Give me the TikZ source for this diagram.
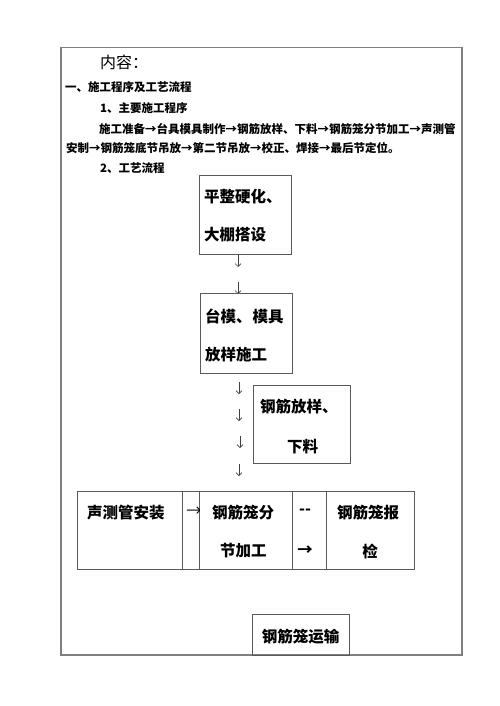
\documentclass[tikz,border=0pt]{standalone}
\usepackage{fontspec}
\usetikzlibrary{arrows.meta}
\newfontfamily\cjk{Noto Sans CJK SC}
\definecolor{framegray}{HTML}{808080}
\definecolor{boxgray}{HTML}{5A5A5A}
\definecolor{arrgray}{HTML}{404040}
\begin{document}
\begin{tikzpicture}[x=1pt,y=-1pt,
  body/.style={inner sep=0pt,anchor=west,font=\cjk\bfseries\fontsize{11.5}{12}\selectfont},
  big/.style={inner sep=0pt,anchor=west,font=\cjk\bfseries\fontsize{15.5}{16}\selectfont},
  bigc/.style={inner sep=0pt,font=\cjk\bfseries\fontsize{15.5}{16}\selectfont},
  flowbox/.style={draw=boxgray,line width=0.9pt,anchor=north west,inner sep=0pt},
  downarr/.style={draw=arrgray,line width=0.6pt,-{Straight Barb[length=3pt,width=6pt]}},
  cell/.style={draw=boxgray,line width=0.9pt}]
\useasboundingbox (0,0) rectangle (500,706);
% outer frame
\draw[framegray,line width=1.2pt] (61,47.5) rectangle (462,655);
% heading texts
\node[inner sep=0pt,anchor=west,font=\cjk\fontsize{16}{16}\selectfont] (title) at (100,62) {内容：};
\node[body] (h1) at (65,87) {一、施工程序及工艺流程};
\node[body] (h2) at (100,108) {1、主要施工程序};
\node[body] (p1) at (99,129) {施工准备→台具模具制作→钢筋放样、下料→钢筋笼分节加工→声测管};
\node[body] (p2) at (66,148) {安制→钢筋笼底节吊放→第二节吊放→校正、焊接→最后节定位。};
\node[body] (h3) at (100,168) {2、工艺流程};
% box 1
\node[flowbox,minimum width=92pt,minimum height=79pt] (b1) at (199,175) {};
\node[big] (b1a) at (204,197) {平整硬化、};
\node[big] (b1b) at (204,235) {大棚搭设};
% small down arrows
\coordinate (a1s) at (238,255); \coordinate (a1e) at (238,267);
\coordinate (a2s) at (238,282); \coordinate (a2e) at (238,294);
\coordinate (a3s) at (239,382); \coordinate (a3e) at (239,394);
\coordinate (a4s) at (239,409); \coordinate (a4e) at (239,421);
\coordinate (a5s) at (240,436); \coordinate (a5e) at (240,448);
\coordinate (a6s) at (239,464); \coordinate (a6e) at (239,476);
\draw[downarr] (a1s) -- (a1e);
\draw[downarr] (a2s) -- (a2e);
\draw[downarr] (a3s) -- (a3e);
\draw[downarr] (a4s) -- (a4e);
\draw[downarr] (a5s) -- (a5e);
\draw[downarr] (a6s) -- (a6e);
% box 2
\node[flowbox,minimum width=92pt,minimum height=80pt] (b2) at (200,293) {};
\node[big] (b2a) at (205,316) {台模、\hspace{1pt}模具};
\node[big] (b2b) at (205,355) {放样施工};
% box 3
\node[flowbox,minimum width=97pt,minimum height=78pt] (b3) at (253,385) {};
\node[big] (b3a) at (260,407) {钢筋放样、};
\node[big] (b3b) at (287,447) {下料};
% table row
\coordinate (t0) at (77,491);
\coordinate (t1) at (182,569);
\coordinate (t2) at (199,491);
\coordinate (t3) at (292,569);
\coordinate (t4) at (326,491);
\coordinate (t5) at (414,569);
\draw[cell] (t0) rectangle (t5);
\draw[cell] (182,491) -- (t1);
\draw[cell] (t2) -- (199,569);
\draw[cell] (292,491) -- (t3);
\draw[cell] (t4) -- (326,569);
\node[big] (c1) at (87,513) {声测管安装};
\begin{scope}
\clip (182,491) rectangle (199,569);
\node[bigc,font=\cjk\fontsize{15.5}{16}\selectfont] (c2) at (194,512) {→};
\end{scope}
\node[big] (c3a) at (212,513) {钢筋笼分};
\node[big] (c3b) at (220,551) {节加工};
\node[bigc] (c4a) at (305,512) {--};
\node[bigc] (c4b) at (305,551) {→};
\node[big] (c5a) at (337,513) {钢筋笼报};
\node[bigc] (c5b) at (370,551) {检};
% bottom box
\node[flowbox,minimum width=97pt,minimum height=41pt] (b4) at (252,614) {};
\node[bigc] (b4t) at (300.5,637) {钢筋笼运输};
\end{tikzpicture}
\end{document}
